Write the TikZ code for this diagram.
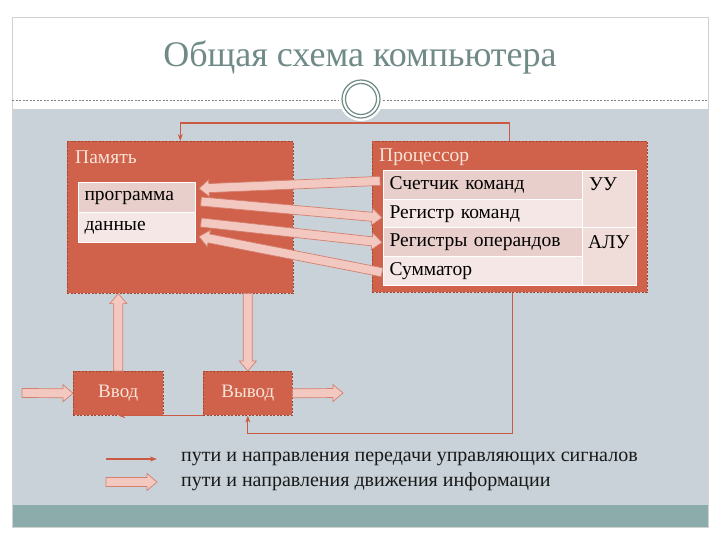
\documentclass[tikz,border=0pt]{standalone}
\usepackage{fontspec}
\setmainfont{Liberation Serif}
\usetikzlibrary{calc,arrows.meta}
\definecolor{blockred}{HTML}{D0614A}
\definecolor{blockedge}{HTML}{A34631}
\definecolor{celldark}{HTML}{E9CFCB}
\definecolor{celllight}{HTML}{F4E7E5}
\definecolor{cellside}{HTML}{F0DCD8}
\definecolor{infofill}{HTML}{F3C8C1}
\definecolor{infoedge}{HTML}{D4806F}
\definecolor{ctrlred}{HTML}{CB5A43}
\definecolor{bandgray}{HTML}{C8D2D8}
\definecolor{bandteal}{HTML}{8BACAA}
\definecolor{titlegray}{HTML}{6F8A87}
\definecolor{labelcream}{HTML}{F9E4D8}
\newcommand{\infoarrow}[2]{%
  \coordinate (ia-s) at (#1);
  \coordinate (ia-t) at (#2);
  \coordinate (ia-b) at ($(ia-t)!10pt!(ia-s)$);
  \filldraw[infoarr] ($(ia-s)!4.5pt!90:(ia-t)$) -- ($(ia-b)!4.5pt!90:(ia-t)$)
    -- ($(ia-b)!8.5pt!90:(ia-t)$) -- (ia-t) -- ($(ia-b)!8.5pt!-90:(ia-t)$)
    -- ($(ia-b)!4.5pt!-90:(ia-t)$) -- ($(ia-s)!4.5pt!-90:(ia-t)$) -- cycle;}

\begin{document}
\begin{tikzpicture}[x=1pt,y=-1pt,
  blockbox/.style={draw=blockedge,dash pattern=on 2pt off 1.5pt,line width=0.6pt,
    fill=blockred,anchor=north west,inner sep=0pt,text=labelcream,
    font=\fontsize{19}{22}\selectfont},
  blocklabel/.style={anchor=west,inner sep=0pt,text=labelcream,font=\fontsize{19.5}{22}\selectfont},
  cellbox/.style={draw=white,line width=1pt,anchor=north west,inner sep=6pt,
    align=left,font=\fontsize{19.5}{22}\selectfont},
  celltext/.style={anchor=west,inner sep=0pt,font=\fontsize{19.5}{22}\selectfont},
  infoarr/.style={fill=infofill,draw=infoedge,line width=0.7pt,line join=miter},
  ctrl/.style={draw=ctrlred,line width=1.3pt,-{Stealth[length=7pt,width=5pt]}},
  legendtext/.style={anchor=west,inner sep=0pt,text=black!90,font=\fontsize{20}{23}\selectfont}]
\useasboundingbox (0,0) rectangle (720,540);
\fill[white] (0,0) rectangle (720,540);
\fill[bandgray] (12,109) rectangle (708,505);
\fill[bandteal] (12,505) rectangle (708,527);
\draw[black!18] (12,17) rectangle (708,527);
\draw[black!50,dash pattern=on 2pt off 1.5pt,line width=0.5pt] (12,100) -- (708,100);
\fill[white] (361,99) circle (22pt);
\draw[titlegray,line width=1.2pt] (361,99) circle (19pt) (361,99) circle (15.5pt);
\node[text=titlegray,font=\fontsize{36}{42}\selectfont] (title) at (360,57) {Общая схема компьютера};

\node[blockbox,minimum width=226pt,minimum height=152pt] (mem) at (67,141) {};
\node[blockbox,minimum width=275pt,minimum height=151pt] (cpu) at (372,141) {};
\node[blocklabel] (memlbl) at ([shift={(8,16)}]mem.north west) {Память};
\node[blocklabel] (cpulbl) at ([shift={(7,16)}]cpu.north west) {Процессор};

\node[cellbox,fill=celldark,text width=105pt,minimum height=30pt] (prog) at (78,182) {программа};
\node[cellbox,fill=celllight,text width=105pt,minimum height=30pt] (data) at (78,212) {данные};

\node[cellbox,fill=celldark,text width=187pt,minimum height=28.75pt] (cnt) at (383,170) {Счетчик команд};
\node[cellbox,fill=celllight,text width=187pt,minimum height=28.75pt] (reg) at (383,198.75) {Регистр команд};
\node[cellbox,fill=celldark,text width=187pt,minimum height=28.75pt] (ops) at (383,227.5) {Регистры операндов};
\node[cellbox,fill=celllight,text width=187pt,minimum height=28.75pt] (sum) at (383,256.25) {Сумматор};
\node[cellbox,fill=cellside,minimum width=54pt,minimum height=57.5pt] (uu) at (582,170) {};
\node[cellbox,fill=cellside,minimum width=54pt,minimum height=57.5pt] (alu) at (582,227.5) {};
\node[celltext] (uulbl) at ([shift={(7,14.4)}]uu.north west) {УУ};
\node[celltext] (alulbl) at ([shift={(6,14.4)}]alu.north west) {АЛУ};

\node[blockbox,minimum width=90pt,minimum height=44pt] (in) at (73,371) {Ввод};
\node[blockbox,minimum width=89pt,minimum height=44pt] (out) at (203,371) {Вывод};
\coordinate (inp) at (22,393);
\coordinate (outp) at (343,393);

\infoarrow{[shift={(-3,-4)}]cnt.west}{[shift={(3,-9)}]prog.east}
\infoarrow{[shift={(5,4)}]prog.east}{[shift={(-1,4)}]reg.west}
\infoarrow{[shift={(5,-5)}]data.east}{[shift={(-1,0)}]ops.west}
\infoarrow{[shift={(-1,1)}]sum.west}{[shift={(3,9)}]data.east}
\infoarrow{in.north}{in.north |- mem.south}
\infoarrow{out.north |- mem.south}{out.north}
\infoarrow{inp}{in.west}
\infoarrow{out.east}{outp}

\draw[ctrl] (cpu.north) -- ++(0,-18) -| (mem.north);
\draw[ctrl] ([xshift=3pt]cpu.south) -- ++(0,141) -| (out.south);
\draw[ctrl] (out.south west) -- (in.south);

\coordinate (lga) at (106,459);
\coordinate (lgb) at (157,459);
\coordinate (lgc) at (106,482);
\coordinate (lgd) at (157,482);
\draw[ctrl,line width=1.1pt] (lga) -- (lgb);
\infoarrow{lgc}{lgd}
\node[legendtext] (lgtext1) at (181,459) {пути и направления передачи управляющих сигналов};
\node[legendtext] (lgtext2) at (181,482) {пути и направления движения информации};
\end{tikzpicture}
\end{document}
